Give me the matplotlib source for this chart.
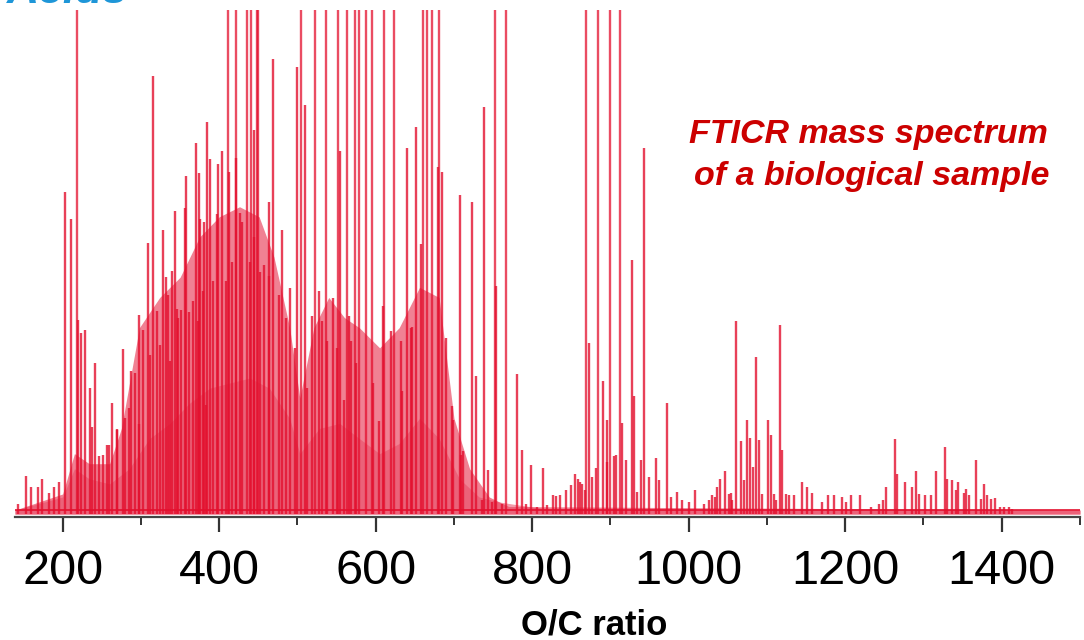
import matplotlib
matplotlib.use("Agg")
import matplotlib.pyplot as plt
from matplotlib.ticker import MultipleLocator

plt.rcParams['font.family'] = ['Liberation Sans', 'DejaVu Sans']

# peaks that run off the top of the plot (intensity clipped)
tall_mz = [218, 411, 421, 435, 441, 448, 450, 505, 522, 537, 552, 563, 573,
           579, 588, 595, 611, 623, 661, 666, 672, 681, 752, 767, 869, 884,
           900, 912]
tall_int = [130] * len(tall_mz)

# medium and small peaks (mz, relative intensity %)
peak_mz = [143, 153, 159, 168, 173, 182, 189, 195,
           203, 210, 219, 223, 229, 235, 238, 241, 246, 251, 257, 259, 263,
           269, 270, 277, 279, 285, 287, 292, 297, 298, 303, 309, 312, 316,
           320, 324, 328, 332, 334, 337, 340, 344, 346, 347, 351, 356, 358,
           362, 366, 370, 373, 374, 376, 379, 381, 383, 385, 388, 392, 397,
           399, 403, 409, 413, 416, 422, 426, 429, 439, 444, 445, 452, 457,
           463, 464, 469, 477, 480, 485, 490, 497, 499, 510, 512, 519, 528,
           532, 538, 545, 551, 555, 560, 566, 569, 575, 596, 604, 609, 620,
           632, 634, 640, 645, 647, 652, 658, 679, 685, 690, 697, 699, 708,
           709, 712, 723, 728, 736, 738, 743, 748, 754, 762, 781, 787, 792,
           799, 806, 814, 819, 826, 831, 835, 843, 850, 855, 858, 861, 864,
           868, 872, 877, 882, 891, 895, 896, 905, 907, 915, 920, 928, 930,
           934, 939, 943, 949, 958, 962, 972, 977, 985, 991, 1000, 1008,
           1020, 1026, 1030, 1034, 1036, 1040, 1046, 1052, 1054, 1055, 1060,
           1067, 1071, 1075, 1078, 1082, 1086, 1090, 1094, 1101, 1105, 1109,
           1112, 1117, 1119, 1124, 1128, 1135, 1145, 1151, 1157, 1170, 1178,
           1186, 1196, 1201, 1207, 1219, 1233, 1243, 1248, 1252, 1263, 1266,
           1277, 1285, 1290, 1294, 1302, 1309, 1316, 1327, 1330, 1336, 1341,
           1344, 1352, 1354, 1358, 1367, 1373, 1377, 1381, 1386, 1392, 1398,
           1403, 1409, 1413]
peak_int = [2.0, 7.5, 5.3, 5.3, 6.9, 4.1, 5.3, 6.3,
            63.9, 58.6, 38.5, 35.9, 36.5, 25.0, 17.2, 30.0, 11.6, 11.8, 13.8,
            13.8, 22.1, 16.6, 16.8, 32.7, 19.1, 21.1, 28.4, 28.0, 17.9, 39.6,
            36.5, 53.8, 31.6, 87.0, 40.4, 33.5, 56.4, 47.0, 43.4, 30.4, 48.3,
            60.2, 40.8, 38.9, 40.6, 60.7, 67.1, 40.2, 42.2, 73.6, 38.3, 67.7,
            58.6, 44.2, 58.0, 21.7, 77.9, 70.4, 46.2, 59.6, 69.4, 72.0, 46.2,
            67.9, 50.1, 70.6, 59.8, 58.0, 50.1, 76.3, 55.0, 48.1, 49.5, 61.9,
            47.3, 90.3, 43.4, 56.4, 38.9, 44.8, 32.9, 88.8, 81.1, 25.0, 39.4,
            44.2, 38.3, 34.3, 42.8, 32.9, 72.0, 22.7, 39.4, 34.3, 30.0, 26.0,
            18.5, 41.4, 36.3, 34.3, 24.5, 72.6, 36.9, 37.1, 76.9, 53.6, 68.8,
            67.9, 34.9, 21.5, 18.7, 63.3, 11.8, 12.6, 61.9, 27.4, 2.8, 80.7,
            8.7, 2.4, 45.2, 2.0, 27.8, 12.8, 2.0, 9.7, 1.4, 9.1, 1.8, 3.7,
            3.5, 3.7, 4.7, 5.7, 7.9, 6.9, 6.3, 5.9, 4.7, 34.0, 7.3, 9.1, 26.4,
            18.7, 10.3, 11.6, 11.8, 18.0, 10.7, 50.5, 23.5, 4.3, 10.7, 72.6,
            7.3, 11.2, 6.7, 22.1, 3.4, 4.3, 2.8, 2.4, 4.7,
            2.0, 2.8, 3.7, 3.4, 5.3, 6.9, 8.5, 4.0, 4.1, 2.8, 38.3,
            14.6, 6.7, 18.7, 15.2, 9.3, 31.2, 14.8, 4.0, 18.7, 15.6, 4.0,
            2.8, 37.5, 12.8, 4.0, 3.7, 3.7, 6.3, 5.3, 4.1, 2.4, 3.7,
            3.7, 3.4, 2.4, 3.7, 3.7, 1.4, 2.0, 2.8, 5.3, 15.0, 7.9,
            6.3, 5.3, 8.5, 4.0, 3.7, 3.7, 8.5, 13.4, 6.9, 6.7, 4.7,
            6.3, 4.1, 5.0, 3.7, 10.7, 3.0, 5.9, 3.7, 3.0, 3.2, 1.4,
            1.4, 1.4, 1.0]

# upper envelope of the dense peak forest (where the red is nearly solid)
forest_mz = [139, 200, 215, 234, 260, 275, 298, 324, 350, 375, 400, 426,
             451, 470, 490, 503, 521, 540, 560, 579, 605, 630, 656, 681,
             700, 720, 745, 770, 1500]
forest_int = [0.8, 4.0, 12.0, 10.0, 10.0, 17.0, 37.0, 43.0, 47.0, 55.0,
              59.0, 61.0, 59.0, 51.0, 37.0, 23.0, 37.0, 43.0, 39.0, 37.0,
              33.0, 37.0, 45.0, 43.0, 19.0, 9.0, 3.4, 1.5, 0.8]

# lower envelope (pink, heavily overlapped band near the baseline)
env_mz = [139, 200, 215, 234, 260, 285, 311, 337, 362, 388, 413, 439, 464,
          490, 503, 528, 554, 579, 605, 630, 656, 681, 707, 732, 758, 783,
          820, 1500]
env_int = [0.8, 3.4, 9.0, 7.0, 6.0, 9.0, 15.0, 18.0, 22.0, 25.0, 26.0,
           27.0, 25.0, 19.0, 12.0, 17.0, 18.0, 15.0, 12.0, 14.0, 19.0, 15.0,
           7.0, 3.4, 2.4, 1.8, 1.0, 0.8]

baseline_level = 0.8

fig = plt.figure(figsize=(10.84, 6.4), dpi=100)
ax = fig.add_axes([0.0138, 0.192, 0.9825, 0.792])

red = '#e3102e'
ax.fill_between(forest_mz, forest_int, color='#e41a3a', alpha=0.55, lw=0)
ax.fill_between(env_mz, env_int, color='#e84a64', alpha=0.55, lw=0)
ax.plot([139, 1500], [baseline_level, baseline_level], color=red, lw=1.2)
ax.vlines(peak_mz, 0, peak_int, color=red, lw=1.7, alpha=0.8)
ax.vlines(tall_mz, 0, tall_int, color=red, lw=1.7, alpha=0.75)

ax.set_xlim(139, 1500)
ax.set_ylim(-0.6, 100)

for s in ['top', 'right', 'left']:
    ax.spines[s].set_visible(False)
ax.spines['bottom'].set_color('#444444')
ax.spines['bottom'].set_linewidth(1.6)
ax.set_yticks([])

ax.xaxis.set_major_locator(MultipleLocator(200))
ax.xaxis.set_minor_locator(MultipleLocator(100))
ax.tick_params(axis='x', which='major', length=11, width=1.6, color='#333333',
               labelsize=35, pad=12, labelcolor='black')
ax.tick_params(axis='x', which='minor', length=6, width=1.4, color='#333333')

fig.text(0.548, 0.024, 'O/C ratio', fontsize=25, fontweight='bold',
         ha='center', va='center')

fig.text(868 / 1084, 1 - 135 / 640, 'FTICR mass spectrum', fontsize=24.5,
         fontweight='bold', fontstyle='italic', color='#cc0000',
         ha='center', va='center')
fig.text(872 / 1084, 1 - 176 / 640, 'of a biological sample', fontsize=24.5,
         fontweight='bold', fontstyle='italic', color='#cc0000',
         ha='center', va='center')

fig.text(128 / 1084, 1 - 3 / 640, 'Acids', fontsize=32, fontweight='bold',
         fontstyle='italic', color='#1e96d8', ha='right', va='baseline')

fig.savefig('out.png', dpi=100)
